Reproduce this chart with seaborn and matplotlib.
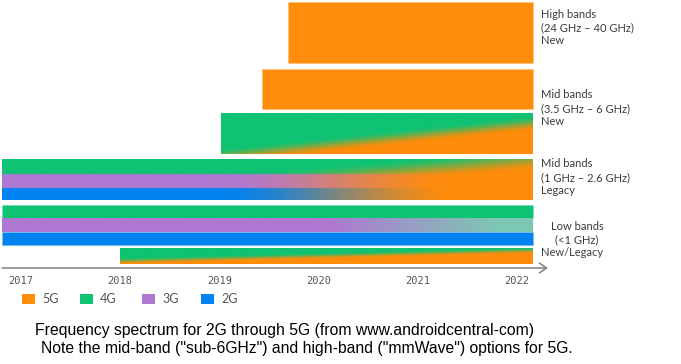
import numpy as np
import pandas as pd
import matplotlib
matplotlib.use("Agg")
import matplotlib.pyplot as plt
import matplotlib.patches as mpatches
from matplotlib.colors import to_rgb
import seaborn as sns

# ---- data (years) ----
years = [2017, 2018, 2019, 2020, 2021, 2022]
gen_labels = ["5G", "4G", "3G", "2G"]
gen_colors = ["#FF8C0A", "#0FC373", "#AF78D2", "#0082F0"]

# band rows: start year of each bar, all run out to the same end
bar_names = ["high_5g", "mid_new_5g", "mid_new_mix", "mid_legacy", "low", "new_legacy"]
bar_start = [2019.69, 2019.43, 2019.02, 2016.81, 2016.81, 2018.0]
bar_end = 2022.16

band_labels = ["High bands\n(24 GHz \u2013 40 GHz)\nNew",
               "Mid bands\n(3.5 GHz \u2013 6 GHz)\nNew",
               "Mid bands\n(1 GHz \u2013 2.6 GHz)\nLegacy"]
low_label = "Low bands\n(<1 GHz)"
newleg_label = "New/Legacy"

caption1 = "Frequency spectrum for 2G through 5G (from www.androidcentral-com)"
caption2 = "Note the mid-band (\"sub-6GHz\") and high-band (\"mmWave\") options for 5G."

# ---- layout ----
W, H = 681, 364
PX_PER_YEAR = 99.2
X0_PX = 21  # pixel of 2017
AXIS_Y = 268

# vertical extents of the rows (pixels from top)
rows = {
    "high_5g": (2, 63),
    "mid_new_5g": (69, 109),
    "mid_new_mix": (113, 154),
    "mid_legacy": [(159, 174), (174, 188), (188, 200)],
    "low": [(204.5, 218), (218, 232), (232, 245)],
    "new_legacy": (248, 264),
}

sns.set_theme(style="white")
plt.rcParams['font.family'] = ['Lato', 'DejaVu Sans']

ORANGE, GREEN, PURPLE, BLUE = [np.array(to_rgb(c)) for c in gen_colors]
MINT = np.array(to_rgb("#7DC8B4"))

fig = plt.figure(figsize=(W / 100, H / 100), dpi=100)
ax = fig.add_axes([0, (H - AXIS_Y) / H, 1, AXIS_Y / H])
xlim = (2017 - X0_PX / PX_PER_YEAR, 2017 + (W - X0_PX) / PX_PER_YEAR)
ylim = (AXIS_Y, 0)

start = dict(zip(bar_names, bar_start))


def smooth(t):
    t = np.clip(t, 0, 1)
    return t * t * (3 - 2 * t)


def grad(x0, x1, y0, y1, func, nx=500, ny=80):
    xs = np.linspace(x0, x1, nx)
    ys = np.linspace(y0, y1, ny)
    X, Y = np.meshgrid(xs, ys)
    img = np.clip(func(X, Y), 0, 1)
    ax.imshow(img, extent=(x0, x1, y1, y0), origin="upper", aspect="auto",
              interpolation="bilinear", zorder=2)


def mix(a, b, t):
    t = t[..., None]
    return a * (1 - t) + b * t


def solid(name, color, y0, y1):
    ax.barh((y0 + y1) / 2, bar_end - start[name], left=start[name], height=y1 - y0,
            color=color, edgecolor=tuple(0.55 * np.array(to_rgb(color)) + 0.45),
            linewidth=0.6, zorder=2)


# high band and mid band new (solid 5G)
solid("high_5g", gen_colors[0], *rows["high_5g"])
solid("mid_new_5g", gen_colors[0], *rows["mid_new_5g"])

# mid band new: 4G -> 5G diagonal
y0, y1 = rows["mid_new_mix"]
grad(start["mid_new_mix"], bar_end, y0, y1,
     lambda X, Y: mix(GREEN, ORANGE,
                      smooth((Y - (148 - 10.6 * (X - 2019.81))) / 15 + 0.5)))

# mid band legacy: 4G/3G/2G fading into 5G
ly = rows["mid_legacy"]
def legacy(X, Y):
    base = np.where((Y < ly[0][1])[..., None], GREEN,
                    np.where((Y < ly[1][1])[..., None], PURPLE, BLUE))
    x0 = 2018.94 + np.maximum(0, 176 - Y) * 0.116
    a = smooth((X - x0) / 2.52)
    return base * (1 - a[..., None]) + ORANGE * a[..., None]
grad(start["mid_legacy"], bar_end, ly[0][0], ly[2][1], legacy, ny=120)

# low bands: 4G, 3G (fading), 2G
lw = rows["low"]
solid("low", gen_colors[1], *lw[0])
grad(start["low"], bar_end, lw[1][0], lw[1][1],
     lambda X, Y: mix(PURPLE, MINT, np.clip((X - 2020.11) / 1.72, 0, 1)))
solid("low", gen_colors[3], *lw[2])

# new / legacy: 4G -> 5G
y0, y1 = rows["new_legacy"]
grad(start["new_legacy"], bar_end, y0, y1,
     lambda X, Y: mix(GREEN, ORANGE,
                      smooth((Y - (261 - 2.54 * (X - 2017.99))) / 6 + 0.5)))

ax.set_xlim(*xlim)
ax.set_ylim(*ylim)
for s in ax.spines.values():
    s.set_visible(False)
ax.set_yticks([])
ax.set_xticks(years)
ax.set_xticklabels([str(y) for y in years], family="DejaVu Sans Mono",
                   fontsize=7.5, color="#555555")
ax.tick_params(axis="x", length=0, pad=6)
ax.grid(False)

# time axis with arrow
ax.annotate("", xy=(2022.31, AXIS_Y), xytext=(2016.81, AXIS_Y),
            arrowprops=dict(arrowstyle="->,head_length=0.5,head_width=0.36",
                            color="#808080", lw=1.1, mutation_scale=10,
                            shrinkA=0, shrinkB=0),
            annotation_clip=False)


def ftext(x, y, s, **kw):
    fig.text(x / W, 1 - y / H, s, **kw)


LINE = 13.5
LABEL_KW = dict(fontsize=8, color="#3c3c3c", va="center")

# band labels on the right
label_y = [14, 95, 164]
for s, y in zip(band_labels, label_y):
    for i, line in enumerate(s.split("\n")):
        ftext(541, y + i * LINE, line, **LABEL_KW)
for i, line in enumerate(low_label.split("\n")):
    ftext(577, 227 + i * 12.5, line, ha="center", **LABEL_KW)
ftext(541, 253, newleg_label, **LABEL_KW)

# legend
leg_x = [22, 80, 142, 201]
for x, lab, col in zip(leg_x, gen_labels, gen_colors):
    fig.patches.append(mpatches.Rectangle((x / W, 1 - 304 / H), 13 / W, 10 / H,
                                          transform=fig.transFigure,
                                          facecolor=col, edgecolor="none"))
    ftext(x + 20, 299, lab, fontsize=9, color="#555555", va="center")

# caption
ftext(35, 331, caption1, family="Liberation Sans", fontsize=11.3,
      color="black", va="center")
ftext(41, 349, caption2, family="Liberation Sans", fontsize=11.3,
      color="black", va="center")

plt.savefig("out.png", dpi=100)
